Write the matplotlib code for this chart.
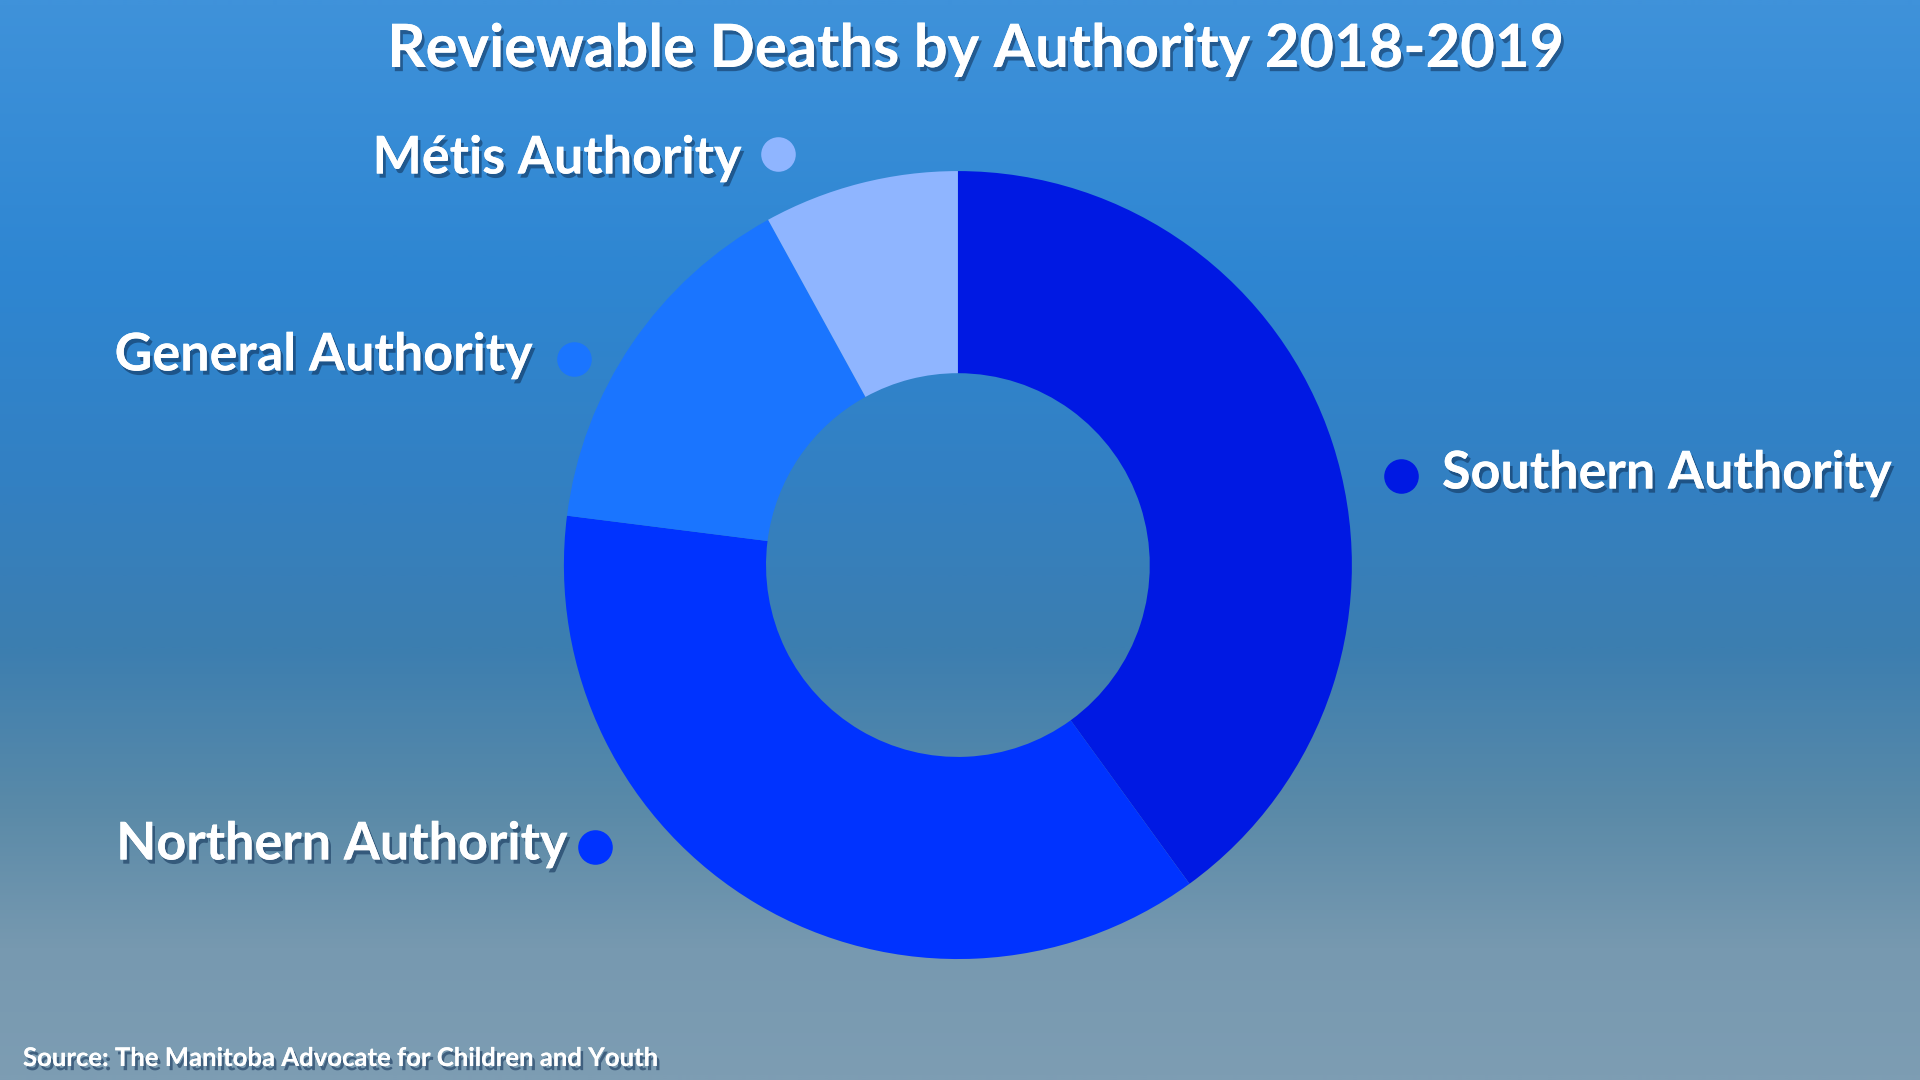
import numpy as np
import matplotlib
matplotlib.use("Agg")
import matplotlib.pyplot as plt
import matplotlib.patheffects as pe
from matplotlib.colors import LinearSegmentedColormap

# data (share of reviewable deaths)
authorities = ["Southern Authority", "Northern Authority", "General Authority", "Métis Authority"]
shares = [40, 37, 15, 8]
colors = ["#0019e3", "#0033ff", "#1a75ff", "#8fb5ff"]

title = "Reviewable Deaths by Authority 2018-2019"
source = "Source: The Manitoba Advocate for Children and Youth"

plt.rcParams["font.family"] = ["Lato", "DejaVu Sans"]

fig = plt.figure(figsize=(19.2, 10.8), dpi=100)

# sky-like background gradient
bg = fig.add_axes([0, 0, 1, 1])
sky = LinearSegmentedColormap.from_list("sky", [
    (0.0, "#3f92da"), (0.25, "#2e86d2"), (0.45, "#3380c2"),
    (0.6, "#3c7eb0"), (0.75, "#5a8aa8"), (0.88, "#7799b0"), (1.0, "#7d9db3")])
grad = np.linspace(0, 1, 540).reshape(-1, 1)
grad = np.repeat(grad, 2, axis=1)
bg.imshow(grad, cmap=sky, aspect="auto", extent=[0, 1920, 1080, 0], interpolation="bilinear")
bg.set_xlim(0, 1920)
bg.set_ylim(1080, 0)
bg.axis("off")

shadow = [pe.withSimplePatchShadow(offset=(2, -3), shadow_rgbFace="#0f2f55", alpha=0.55), pe.Normal()]

# donut
ax = fig.add_axes([0.2937, 0.112, 0.4104, 0.7296])
ax.pie(shares, colors=colors, startangle=90, counterclock=False,
       wedgeprops=dict(width=0.513, linewidth=0))
ax.set_xlim(-1, 1)
ax.set_ylim(-1, 1)
ax.set_aspect("equal")
ax.axis("off")

# labels with marker dots (layout in pixels)
label_layout = {
    "Southern Authority": dict(dot=(1401, 476), text=(1442, 474), ha="left"),
    "Northern Authority": dict(dot=(595, 847), text=(568, 845), ha="right"),
    "General Authority": dict(dot=(574, 359), text=(533, 356), ha="right"),
    "Métis Authority": dict(dot=(778, 154), text=(742, 159), ha="right"),
}
for name, col in zip(authorities, colors):
    lay = label_layout[name]
    bg.scatter(*lay["dot"], s=620, color=col, zorder=3, linewidths=0)
    bg.text(lay["text"][0], lay["text"][1], name, ha=lay["ha"], va="center",
            fontsize=37.5, fontweight="bold", color="white", path_effects=shadow, zorder=4)

bg.text(976, 50, title, ha="center", va="center", fontsize=43, fontweight="bold",
        color="white", path_effects=shadow)
bg.text(23, 1058, source, ha="left", va="center", fontsize=18.5, fontweight="bold",
        color="white", path_effects=shadow)

fig.savefig("out.png", dpi=100)
